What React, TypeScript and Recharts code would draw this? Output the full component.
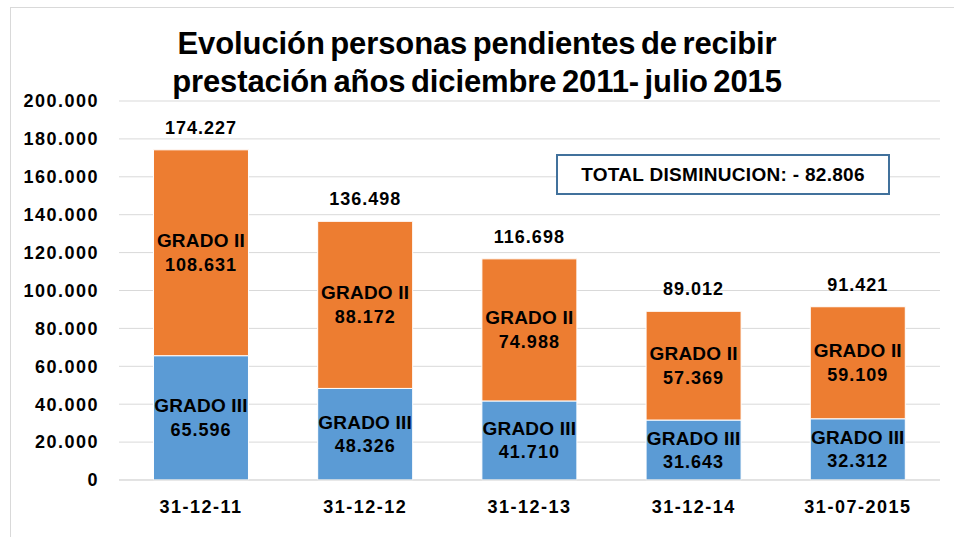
import { BarChart, Bar, XAxis, YAxis, CartesianGrid, LabelList } from 'recharts';

const fechas = ['31-12-11', '31-12-12', '31-12-13', '31-12-14', '31-07-2015'];
const gradoIII = [65596, 48326, 41710, 31643, 32312];
const gradoII = [108631, 88172, 74988, 57369, 59109];
const yTicks = [0, 20000, 40000, 60000, 80000, 100000, 120000, 140000, 160000, 180000, 200000];

const data = fechas.map((fecha, i) => ({
  fecha,
  gradoIII: gradoIII[i],
  gradoII: gradoII[i],
  total: gradoIII[i] + gradoII[i],
}));

const fmt = (v: number) => String(v).replace(/\B(?=(\d{3})+(?!\d))/g, '.');

const FONT = '"Liberation Sans", Arial, sans-serif';

function segmentLabel(name: string) {
  return (props: any) => {
    const { x, y, width, height, value } = props;
    const cx = x + width / 2;
    const cy = y + height / 2;
    return (
      <g>
        <text x={cx} y={cy - 12} textAnchor="middle" dominantBaseline="central"
          fontFamily={FONT} fontWeight="bold" fontSize={19} letterSpacing={0.2} fill="#000">
          {name}
        </text>
        <text x={cx} y={cy + 12} textAnchor="middle" dominantBaseline="central"
          fontFamily={FONT} fontWeight="bold" fontSize={18} letterSpacing={1} fill="#000">
          {fmt(value)}
        </text>
      </g>
    );
  };
}

const totalLabel = (props: any) => {
  const { x, y, width, index } = props;
  return (
    <text x={x + width / 2} y={y - 22} textAnchor="middle" dominantBaseline="central"
      fontFamily={FONT} fontWeight="bold" fontSize={18} letterSpacing={1} fill="#000">
      {fmt(data[index].total)}
    </text>
  );
};

export default function App() {
  return (
    <div style={{ position: 'absolute', left: 0, top: 0, width: 954, height: 537, background: '#fff', fontFamily: FONT, overflow: 'hidden' }}>
      <div style={{ position: 'absolute', left: 10, top: 7, width: 960, height: 540, borderLeft: '1px solid #d9d9d9', borderTop: '1px solid #d9d9d9' }} />
      <div style={{ position: 'absolute', left: 0, top: 25, width: 954, textAlign: 'center', fontWeight: 'bold', fontSize: 31, lineHeight: '38px', letterSpacing: -0.1, wordSpacing: -3, color: '#000' }}>
        Evolución personas pendientes de recibir<br />prestación años diciembre 2011- julio 2015
      </div>
      <BarChart width={954} height={537} data={data} margin={{ top: 101, right: 14, bottom: 27, left: 0 }} barCategoryGap="21%">
        <CartesianGrid vertical={false} stroke="#d9d9d9" />
        <XAxis dataKey="fecha" axisLine={{ stroke: '#d9d9d9' }} tickLine={false}
          tick={{ fill: '#000', fontSize: 18, fontWeight: 'bold', fontFamily: FONT, letterSpacing: 1.5 }} tickMargin={14} />
        <YAxis width={119} domain={[0, 200000]} ticks={yTicks} interval={0} axisLine={false} tickLine={false}
          tickFormatter={fmt} tick={{ fill: '#000', fontSize: 18, fontWeight: 'bold', fontFamily: FONT, letterSpacing: 1.5, dx: -12 }} />
        <Bar dataKey="gradoIII" stackId="a" fill="#5B9BD5" stroke="#fff" strokeWidth={1} isAnimationActive={false}>
          <LabelList dataKey="gradoIII" content={segmentLabel('GRADO III')} />
        </Bar>
        <Bar dataKey="gradoII" stackId="a" fill="#ED7D31" stroke="#fff" strokeWidth={1} isAnimationActive={false}>
          <LabelList dataKey="gradoII" content={segmentLabel('GRADO II')} />
          <LabelList dataKey="gradoII" content={totalLabel} />
        </Bar>
      </BarChart>
      <div style={{ position: 'absolute', left: 556, top: 154, width: 330, height: 37, border: '2px solid #41719C', display: 'flex', alignItems: 'center', justifyContent: 'center', fontWeight: 'bold', fontSize: 19, letterSpacing: 0.3, color: '#000', background: '#fff' }}>
        TOTAL DISMINUCION: - 82.806
      </div>
    </div>
  );
}
